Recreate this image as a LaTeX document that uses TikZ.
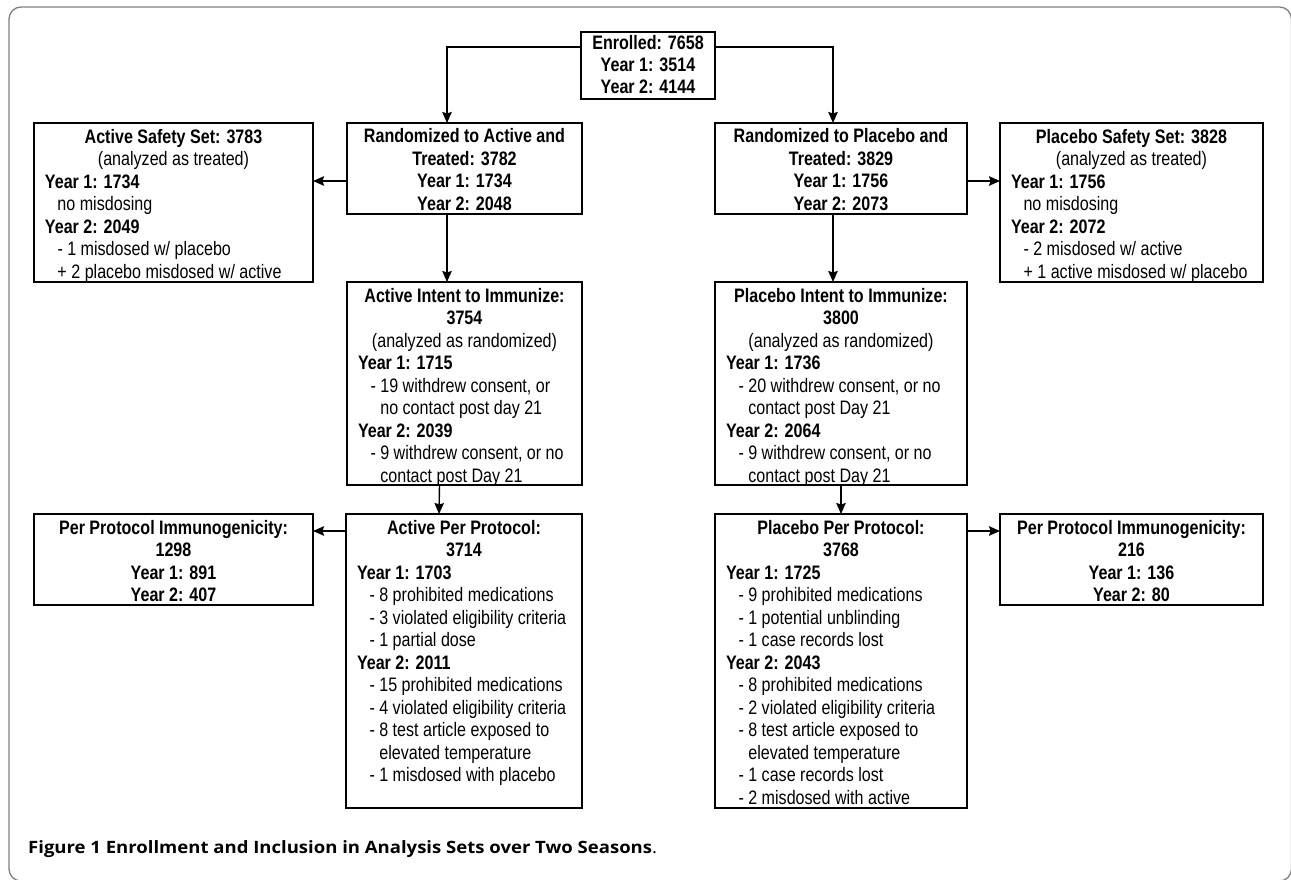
\documentclass[tikz,border=0pt]{standalone}
\usepackage{fontspec}
\setmainfont{Liberation Sans}[FakeStretch=0.825]
\newfontfamily\capfont{Open Sans}[FakeStretch=1.09]
\usetikzlibrary{arrows.meta}
\def\bst{\vrule width 0pt height 15pt depth 5pt\relax}
\newcommand{\cln}[1]{\hbox to\hsize{\hss\bst#1\hss}}
\newcommand{\lft}[2][0pt]{\hbox to\hsize{\hspace*{#1}\bst#2\hss}}
\newcommand{\bcont}[5][22.5pt]{\vbox to #3{\hsize=#2\relax\baselineskip=#1\lineskip=0pt\kern#4 #5\vss}}
\newcommand{\yr}[1]{\lft[11pt]{\textbf{#1}}}
\newcommand{\itm}[1]{\lft[23.5pt]{#1}}
\newcommand{\itc}[1]{\lft[23.5pt]{\phantom{- }#1}}
\tikzset{
  fbox/.style={draw, line width=1.3pt, inner sep=0pt, outer sep=0pt, anchor=north west,
    font=\fontsize{19.5}{22.5}\selectfont},
  arr/.style={line width=1.4pt, -{Stealth[length=11pt,width=9.5pt,inset=1.5pt]}},
}
\begin{document}
\begin{tikzpicture}[x=1pt,y=-1pt]
\useasboundingbox (0,0) rectangle (1291,880);
\begin{scope}
\clip (0,0) rectangle (1291,880);
\draw[black!50, line width=1.3pt, rounded corners=12pt] (9,7) rectangle (1291.5,881);
\end{scope}

\node[fbox] (enr) at (581,32) {\bcont[22pt]{134pt}{67pt}{3pt}{%
  \cln{\textbf{Enrolled: 7658}}\cln{\textbf{Year 1: 3514}}\cln{\textbf{Year 2: 4144}}}};

\node[fbox] (randA) at (347,123) {\bcont{235pt}{91pt}{5pt}{%
  \cln{\textbf{Randomized to Active and}}\cln{\textbf{Treated: 3782}}%
  \cln{\textbf{Year 1: 1734}}\cln{\textbf{Year 2: 2048}}}};
\node[fbox] (randP) at (715,123) {\bcont{252pt}{91pt}{5pt}{%
  \cln{\textbf{Randomized to Placebo and}}\cln{\textbf{Treated: 3829}}%
  \cln{\textbf{Year 1: 1756}}\cln{\textbf{Year 2: 2073}}}};

\node[fbox] (safeA) at (34,123) {\bcont{279pt}{159pt}{5pt}{%
  \cln{\textbf{Active Safety Set: 3783}}\cln{(analyzed as treated)}%
  \yr{Year 1: 1734}\itm{no misdosing}\yr{Year 2: 2049}%
  \itm{- 1 misdosed w/ placebo}\itm{+ 2 placebo misdosed w/ active}}};
\node[fbox] (safeP) at (1000,123) {\bcont{263pt}{159pt}{5pt}{%
  \cln{\textbf{Placebo Safety Set: 3828}}\cln{(analyzed as treated)}%
  \yr{Year 1: 1756}\itm{no misdosing}\yr{Year 2: 2072}%
  \itm{- 2 misdosed w/ active}\itm{+ 1 active misdosed w/ placebo}}};

\node[fbox] (intA) at (347,282) {\bcont{235pt}{203pt}{5pt}{%
  \cln{\textbf{Active Intent to Immunize:}}\cln{\textbf{3754}}\cln{(analyzed as randomized)}%
  \yr{Year 1: 1715}\itm{- 19 withdrew consent, or}\itc{no contact post day 21}%
  \yr{Year 2: 2039}\itm{- 9 withdrew consent, or no}\itc{contact post Day 21}}};
\node[fbox] (intP) at (715,282) {\bcont{252pt}{203pt}{5pt}{%
  \cln{\textbf{Placebo Intent to Immunize:}}\cln{\textbf{3800}}\cln{(analyzed as randomized)}%
  \yr{Year 1: 1736}\itm{- 20 withdrew consent, or no}\itc{contact post Day 21}%
  \yr{Year 2: 2064}\itm{- 9 withdrew consent, or no}\itc{contact post Day 21}}};

\node[fbox] (ppA) at (346,514) {\bcont{236pt}{294pt}{5pt}{%
  \cln{\textbf{Active Per Protocol:}}\cln{\textbf{3714}}%
  \yr{Year 1: 1703}\itm{- 8 prohibited medications}\itm{- 3 violated eligibility criteria}%
  \itm{- 1 partial dose}\yr{Year 2: 2011}\itm{- 15 prohibited medications}%
  \itm{- 4 violated eligibility criteria}\itm{- 8 test article exposed to}%
  \itc{elevated temperature}\itm{- 1 misdosed with placebo}}};
\node[fbox] (ppP) at (715,514) {\bcont{252pt}{294pt}{5pt}{%
  \cln{\textbf{Placebo Per Protocol:}}\cln{\textbf{3768}}%
  \yr{Year 1: 1725}\itm{- 9 prohibited medications}\itm{- 1 potential unblinding}%
  \itm{- 1 case records lost}\yr{Year 2: 2043}\itm{- 8 prohibited medications}%
  \itm{- 2 violated eligibility criteria}\itm{- 8 test article exposed to}%
  \itc{elevated temperature}\itm{- 1 case records lost}\itm{- 2 misdosed with active}}};

\node[fbox] (ppiA) at (34,514) {\bcont{279pt}{91pt}{5pt}{%
  \cln{\textbf{Per Protocol Immunogenicity:}}\cln{\textbf{1298}}%
  \cln{\textbf{Year 1: 891}}\cln{\textbf{Year 2: 407}}}};
\node[fbox] (ppiP) at (1000,514) {\bcont{263pt}{91pt}{5pt}{%
  \cln{\textbf{Per Protocol Immunogenicity:}}\cln{\textbf{216}}%
  \cln{\textbf{Year 1: 136}}\cln{\textbf{Year 2: 80}}}};

\node[anchor=base west, inner sep=0pt] (cap) at (28,853)
  {\capfont\fontsize{17}{20}\selectfont\textbf{Figure 1 Enrollment and Inclusion in Analysis Sets over Two Seasons}.};

\draw[arr] ([yshift=-15pt]enr.north west) -| ([xshift=-17.5pt]randA.north);
\draw[arr] ([yshift=-15pt]enr.north east) -| ([xshift=-8pt]randP.north);
\draw[arr] ([yshift=-58pt]randA.north west) -- ([yshift=-58pt]safeA.north east);
\draw[arr] ([yshift=-58pt]randP.north east) -- ([yshift=-58pt]safeP.north west);
\draw[arr] ([xshift=-17.5pt]randA.south) -- ([xshift=-17.5pt]intA.north);
\draw[arr] ([xshift=-8pt]randP.south) -- ([xshift=-8pt]intP.north);
\draw[arr] ([xshift=-25pt]intA.south) -- ([xshift=-25pt]ppA.north);
\draw[arr] (intP.south) -- (ppP.north);
\draw[arr] ([yshift=-17pt]ppA.north west) -- ([yshift=-17pt]ppiA.north east);
\draw[arr] ([yshift=-17pt]ppP.north east) -- ([yshift=-17pt]ppiP.north west);
\end{tikzpicture}
\end{document}
